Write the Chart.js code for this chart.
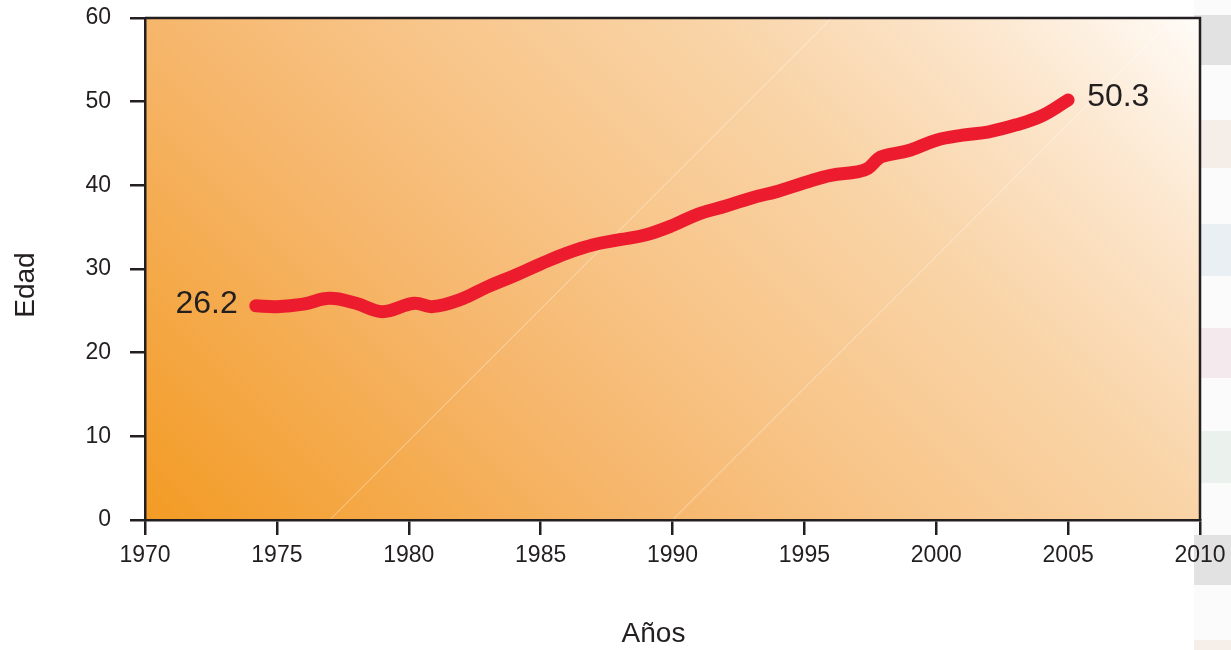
<!DOCTYPE html>
<html>
<head>
<meta charset="utf-8">
<script src="https://cdn.jsdelivr.net/npm/chart.js@4.4.0/dist/chart.umd.min.js"></script>
<style>
  body { margin: 0; background: #fff; }
  #wrap { width: 1231px; height: 650px; }
</style>
</head>
<body>
<div id="wrap"><canvas id="myChart" width="1231" height="650"></canvas></div>
<script>
const years = [1974.2, 1975, 1976, 1977, 1978, 1979, 1980.2, 1980.9, 1982, 1983, 1984, 1985, 1986, 1987, 1988, 1989, 1990, 1991, 1992, 1993, 1994, 1995, 1996, 1997, 1997.4, 1997.8, 1998, 1999, 2000, 2001, 2002, 2003, 2004, 2005];
const ages = [25.6, 25.5, 25.8, 26.5, 25.9, 24.9, 25.9, 25.5, 26.4, 27.9, 29.2, 30.6, 31.9, 32.9, 33.5, 34.1, 35.2, 36.6, 37.5, 38.5, 39.3, 40.3, 41.2, 41.6, 42.0, 43.2, 43.5, 44.2, 45.4, 46.0, 46.4, 47.2, 48.3, 50.2];
const endLabels = ["26.2", "50.3"];
const xTitle = "Años";
const yTitle = "Edad";

const ink = "#231f20";
const fontFamily = "'Liberation Sans', Arial, Helvetica, sans-serif";

const points = years.map((y, i) => ({ x: y, y: ages[i] }));

// background: scanned strip at the right edge, gradient, faint diagonal lines
const backdrop = {
  id: "backdrop",
  beforeDraw: (chart) => {
    const { ctx, chartArea: a } = chart;
    const xs = chart.scales.x;
    ctx.save();
    // strip on the right
    const bands = [
      [15, 65, "#e2e2e2"], [120, 168, "#f4ede8"], [224, 276, "#eaeff4"],
      [328, 378, "#f4eaee"], [431, 483, "#ebf1ed"], [535, 585, "#e2e2e2"], [640, 650, "#f6eee8"]
    ];
    ctx.fillStyle = "#fbfbfb";
    ctx.fillRect(1194, 0, chart.width - 1194, chart.height);
    bands.forEach((b) => {
      ctx.fillStyle = b[2];
      ctx.fillRect(1194, b[0], chart.width - 1194, b[1] - b[0]);
    });

    const w = a.right - a.left, h = a.bottom - a.top;
    const L = (w + h) / 2;
    const g = ctx.createLinearGradient(a.left, a.bottom, a.left + L, a.bottom - L);
    g.addColorStop(0, "#f39b24");
    g.addColorStop(0.32, "#f6b66b");
    g.addColorStop(0.5, "#f8c68b");
    g.addColorStop(0.68, "#f9d4a7");
    g.addColorStop(0.85, "#fce6cd");
    g.addColorStop(1, "#fffcf8");
    ctx.fillStyle = g;
    ctx.fillRect(a.left, a.top, w, h);

    ctx.beginPath();
    ctx.rect(a.left, a.top, w, h);
    ctx.clip();
    ctx.strokeStyle = "rgba(255,255,255,0.45)";
    ctx.lineWidth = 1;
    [1977, 1990].forEach((yr) => {
      const x0 = xs.getPixelForValue(yr);
      ctx.beginPath();
      ctx.moveTo(x0, a.bottom);
      ctx.lineTo(x0 + h, a.top);
      ctx.stroke();
    });
    ctx.restore();
  },
  afterDatasetsDraw: (chart) => {
    const { ctx, chartArea: a } = chart;
    const xs = chart.scales.x, ys = chart.scales.y;
    ctx.save();
    ctx.strokeStyle = ink;
    ctx.lineWidth = 2.5;
    ctx.beginPath();
    ctx.moveTo(a.left, a.top);
    ctx.lineTo(a.right, a.top);
    ctx.lineTo(a.right, a.bottom);
    ctx.stroke();

    ctx.fillStyle = ink;
    ctx.font = "32px " + fontFamily;
    ctx.textBaseline = "middle";
    const first = points[0], last = points[points.length - 1];
    ctx.textAlign = "right";
    ctx.fillText(endLabels[0], xs.getPixelForValue(first.x) - 18, ys.getPixelForValue(first.y) - 2);
    ctx.textAlign = "left";
    ctx.fillText(endLabels[1], xs.getPixelForValue(last.x) + 19, ys.getPixelForValue(last.y) - 3);

    // axis titles (sit a little off centre in the original)
    ctx.font = "28px " + fontFamily;
    ctx.textAlign = "center";
    ctx.fillText(xTitle, (a.left + a.right) / 2 - 19, 634);
    ctx.translate(26, (a.top + a.bottom) / 2 + 16);
    ctx.rotate(-Math.PI / 2);
    ctx.fillText(yTitle, 0, 0);
    ctx.restore();
  },
};

Chart.defaults.font.family = fontFamily;
Chart.defaults.color = ink;

const ctx = document.getElementById("myChart");
var chart = new Chart(ctx, {
  type: "line",
  data: {
    datasets: [
      {
        data: points,
        borderColor: "#ec1c2e",
        borderWidth: 13,
        borderCapStyle: "round",
        borderJoinStyle: "round",
        tension: 0.4,
        pointRadius: 0,
        fill: false,
        clip: false,
      },
    ],
  },
  options: {
    responsive: false,
    animation: false,
    layout: { padding: { top: 18, right: 31, left: 0, bottom: 0 } },
    plugins: { legend: { display: false }, tooltip: { enabled: false } },
    scales: {
      x: {
        type: "linear",
        min: 1970,
        max: 2010,
        ticks: { stepSize: 5, padding: 7, font: { size: 23 }, color: ink, maxRotation: 0, callback: (v) => String(v) },
        grid: { drawOnChartArea: false, drawTicks: true, tickLength: 15, color: ink, lineWidth: 2.5 },
        border: { display: true, color: ink, width: 2.5 },
        afterFit: (s) => { s.height = 130; s.paddingLeft = 0; s.paddingRight = 0; },
      },
      y: {
        min: 0,
        max: 60,
        ticks: { stepSize: 10, padding: 19, font: { size: 23 }, color: ink },
        grid: { drawOnChartArea: false, drawTicks: true, tickLength: 15, color: ink, lineWidth: 2.5 },
        border: { display: true, color: ink, width: 2.5 },
        afterFit: (s) => { s.width = 145; s.paddingTop = 0; s.paddingBottom = 0; },
      },
    },
  },
  plugins: [backdrop],
});
</script>
</body>
</html>
